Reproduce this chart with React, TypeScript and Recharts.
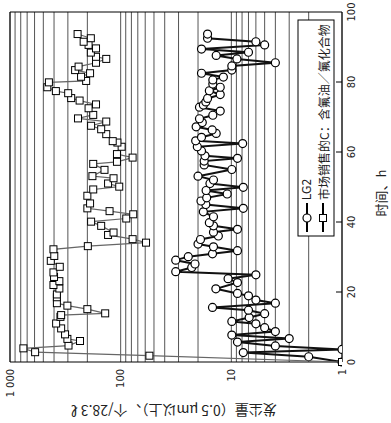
import React from 'react';
import { ScatterChart, Scatter, XAxis, YAxis, CartesianGrid, ReferenceLine } from 'recharts';

// LG2 series (circles): hours and particle counts
const lg2Hours = [0, 1.5, 2.7, 3.6, 4.6, 5.7, 6.7, 7.7, 8.7, 9.8, 10.9, 11.6, 12.7, 13.8, 14.8, 15.6, 16.8, 17.7, 18.9, 19.6,
    20.9, 22.7, 23.8, 24.9, 25.8, 27, 28, 29.1, 30.1, 30.9, 31.8, 32.9, 33.7, 35, 36, 37.1, 37.9, 38.9, 39.8, 41.5,
    42.9, 43.9, 45, 46, 46.9, 48, 49, 49.9, 51, 52, 53.1, 55, 56.3, 57.4, 58.2, 58.9, 60.3, 61.5, 62.4, 63.2,
    64.2, 65.3, 66.3, 67.2, 68.4, 69.5, 70.5, 71.7, 72.8, 73.4, 74.3, 75.3, 76.4, 77.5, 78.5, 79.4, 80.6, 81.4, 82.5, 83.4,
    84.6, 85.5, 86.6, 87.6, 88.5, 89.4, 90.6, 91.5, 92.5, 93.7];
const lg2Counts = [1, 2, 7.8, 1, 4, 8.8, 3, 9.9, 4, 5, 6, 9.9, 6.9, 5, 7, 14.8, 4, 6, 7, 8.8,
    13.8, 8.8, 10.7, 6, 31.8, 22.8, 21.3, 31.8, 24.5, 14.8, 8.8, 14.5, 20, 19, 13.1, 14.5, 8.8, 14.5, 15.8, 14.5,
    17.9, 7.8, 17, 18.8, 16.7, 10.9, 16.9, 7.8, 15.6, 14.5, 20, 9.9, 17.6, 17.6, 8.8, 17.3, 18.6, 20.3, 7.9, 21,
    18.6, 13.7, 14.9, 20.8, 18.3, 19.4, 14.7, 12.6, 19.4, 17.9, 17, 16.4, 12.6, 15.8, 12.6, 14.7, 14.7, 11.8, 18.6, 9.9,
    9.9, 4, 8.9, 13.7, 7, 18.6, 5, 6, 16.4, 16.4];

// commercial C series (squares)
const marketHours = [0, 1.8, 2.8, 3.9, 4.7, 6, 6.6, 7.9, 9.6, 11, 12.9, 13.4, 13.9, 15.1, 16.1, 16.8, 18.5, 19.3, 21, 22,
    23.1, 24.3, 25.6, 27.2, 28.9, 30.3, 32.2, 33.1, 34.1, 35.1, 36.3, 37, 38.9, 40.1, 41, 42.2, 43.1, 43.9, 45.3, 47.5,
    49.3, 50.1, 51, 52.5, 53.1, 54.9, 56.6, 57.2, 58.4, 59.4, 61.5, 62.7, 63.1, 65.1, 66.5, 67.5, 68.7, 69.6, 70.6, 72.5,
    73.6, 74.7, 75.4, 76.8, 77.4, 78.5, 79.9, 80.3, 81.5, 82.5, 83.4, 84.4, 85.5, 86.6, 87.2, 88.4, 89.6, 90.6, 91.5, 92.5, 93.7];
const marketCounts = [1, 55, 593, 757, 296, 233, 303, 318, 345, 383, 350, 345, 138, 200, 303, 377, 377, 377, 358, 405,
    358, 400, 405, 355, 428, 398, 405, 198, 59, 78, 130, 116, 150, 185, 89, 77, 126, 200, 189, 200,
    177, 103, 130, 116, 180, 140, 177, 108, 78, 108, 98, 107, 118, 135, 150, 185, 135, 243, 177, 195,
    167, 235, 280, 298, 385, 460, 445, 205, 228, 189, 258, 240, 167, 135, 167, 186, 167, 195, 216, 186, 245];

const countTicks = [1, 2, 3, 4, 5, 6, 7, 8, 9, 10, 20, 30, 40, 50, 60, 70, 80, 90, 100, 200, 300, 400, 500, 600, 700, 800, 900, 1000];
const countLabels: Record<number, string> = { 1: '1', 10: '10', 100: '100', 1000: '1 000' };
const hourTicks = [0, 20, 40, 60, 80, 100];

const lg2Data = lg2Hours.map((t, i) => ({ t, v: lg2Counts[i] }));
const marketData = marketHours.map((t, i) => ({ t, v: marketCounts[i] }));

const numFont = "'Liberation Sans Narrow', 'DejaVu Sans Condensed', 'Liberation Sans', sans-serif";
const cjkFont = "'Noto Sans CJK SC', 'Liberation Sans', sans-serif";

const CountTick = (props: any) => {
    const { x, payload } = props;
    const label = countLabels[payload.value];
    if (!label) return null;
    return (
        <text x={x} y={369} transform={`rotate(-90, ${x}, 369)`} textAnchor="end" dominantBaseline="central"
            fontSize={11} fontFamily={numFont} fill="#222">{label}</text>
    );
};

const HourTick = (props: any) => {
    const { y, payload } = props;
    const showLine = payload.value !== 0 && payload.value !== 100;
    return (
        <g>
            {showLine && <line x1={336} x2={342} y1={y} y2={y} stroke="#000" strokeWidth={1} />}
            <text x={351} y={y} transform={`rotate(-90, 351, ${y})`} textAnchor="middle" dominantBaseline="central"
                fontSize={11} fontFamily={numFont} fill="#222">{payload.value}</text>
        </g>
    );
};

const CircleDot = (p: any) => <circle cx={p.cx} cy={p.cy} r={4} fill="#fff" stroke="#000" strokeWidth={1.2} />;
const SquareDot = (p: any) => <rect x={p.cx - 3.5} y={p.cy - 3.5} width={7} height={7} fill="#fff" stroke="#000" strokeWidth={1} />;

export default function App() {
    return (
        <div style={{ position: 'absolute', left: 0, top: 0, width: 391, height: 423, background: '#fff' }}>
            <ScatterChart width={391} height={423} margin={{ top: 12, right: 19, bottom: 31, left: 10 }}>
                <CartesianGrid horizontal={false} stroke="#555" strokeWidth={1} />
                <XAxis type="number" dataKey="v" scale="log" domain={[1, 1000]} ticks={countTicks} interval={0}
                    reversed allowDataOverflow height={30} tickLine={false} axisLine={{ stroke: '#000' }} tick={<CountTick />} />
                <YAxis type="number" dataKey="t" domain={[0, 100]} ticks={hourTicks} interval={0} orientation="right"
                    width={30} tickLine={false} axisLine={{ stroke: '#000' }} tick={<HourTick />} />
                <ReferenceLine y={100} stroke="#000" />
                <ReferenceLine x={1000} stroke="#000" />
                <Scatter name="LG2" data={lg2Data} line={{ stroke: '#111', strokeWidth: 2 }} shape={<CircleDot />} isAnimationActive={false} />
                <Scatter name="市场销售的C：含氟油／氟化合物" data={marketData} line={{ stroke: '#666', strokeWidth: 1.2 }} shape={<SquareDot />} isAnimationActive={false} />
            </ScatterChart>
            <svg width={391} height={423} style={{ position: 'absolute', left: 0, top: 0, pointerEvents: 'none' }}>
                {/* legend, rotated with the rest of the figure */}
                <rect x={298} y={20} width={36} height={216} fill="#fff" stroke="#000" strokeWidth={1} />
                <line x1={307} x2={307} y1={203} y2={232} stroke="#000" strokeWidth={2} />
                <circle cx={307} cy={218} r={4} fill="#fff" stroke="#000" strokeWidth={1.2} />
                <text x={307} y={200} transform="rotate(-90, 307, 200)" dominantBaseline="central" fontSize={12} fontFamily={numFont} fill="#222">LG2</text>
                <line x1={323} x2={323} y1={203} y2={232} stroke="#000" strokeWidth={2} />
                <rect x={319.5} y={214.5} width={7} height={7} fill="#fff" stroke="#000" strokeWidth={1} />
                <text x={323} y={200} transform="rotate(-90, 323, 200)" dominantBaseline="central" fontSize={12} fontFamily={cjkFont} fill="#222">市场销售的C：含氟油／氟化合物</text>
                {/* axis titles */}
                <text x={380} y={193} transform="rotate(-90, 380, 193)" textAnchor="middle" dominantBaseline="central" fontSize={13} fontFamily={cjkFont} fill="#222">时间、h</text>
                <text x={174} y={411} transform="rotate(180, 174, 411)" textAnchor="middle" dominantBaseline="central" fontSize={14} fontFamily={cjkFont} fill="#222">发尘量（0.5 μm以上）、个/28.3 ℓ</text>
            </svg>
        </div>
    );
}
